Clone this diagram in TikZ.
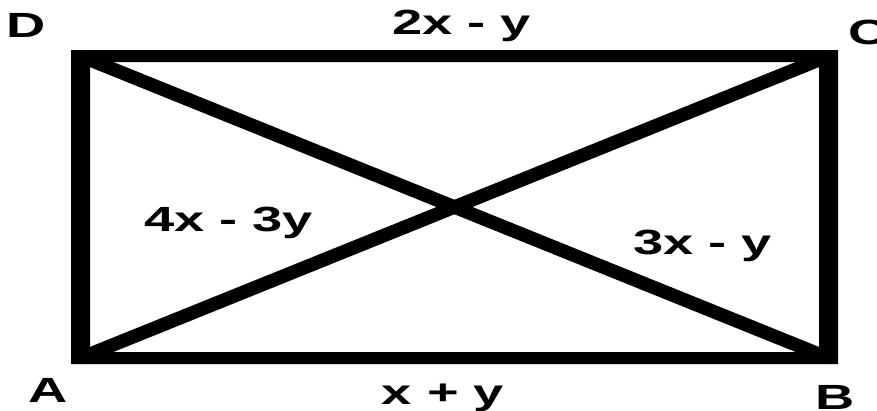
\documentclass[tikz,border=0pt]{standalone}
\usepackage{fontspec}
\setmainfont{Liberation Sans}
\usetikzlibrary{calc}
\tikzset{
  lbl/.style={inner sep=0pt, anchor=base, font=\fontsize{35}{40}\selectfont\bfseries},
  diag/.style={line width=13.5pt, line cap=butt}
}
\newcommand{\wide}[1]{\scalebox{1.55}[1]{#1}}
\begin{document}
\begin{tikzpicture}[x=1pt,y=-1pt]
\useasboundingbox (0,0) rectangle (877,410);
\coordinate (D) at (80.5,56);
\coordinate (C) at (828.5,56);
\coordinate (B) at (828.5,358);
\coordinate (A) at (80.5,358);
% frame: thicker vertical sides than horizontal ones
\fill[even odd rule] ($(D)+(-9.5,-6)$) rectangle ($(B)+(9.5,6)$)
                     ($(D)+(9.5,6)$) rectangle ($(B)+(-9.5,-6)$);
\draw[diag] (A) -- (C);
\draw[diag] (D) -- (B);
% vertex labels
\node[lbl] (lD) at (26,37) {\wide{D}};
\node[lbl] (lC) at (868,44) {\wide{C}};
\node[lbl] (lB) at (835.5,409) {\wide{B}};
\node[lbl] (lA) at (48,402) {\wide{A}};
% side and diagonal labels
\node[lbl] (top) at (461.5,34) {\wide{2x - y}};
\node[lbl] (bot) at (443,404) {\wide{x + y}};
\node[lbl] (dl) at (228.5,231) {\wide{4x - 3y}};
\node[lbl] (dr) at (702.5,254) {\wide{3x - y}};
\end{tikzpicture}
\end{document}
